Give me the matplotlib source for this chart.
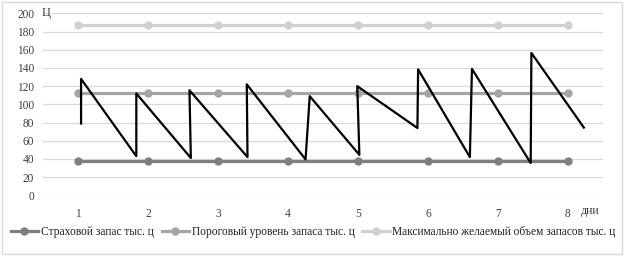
import matplotlib.pyplot as plt
from matplotlib.patches import Rectangle

plt.rcParams['font.family'] = ['Liberation Serif', 'DejaVu Serif']

days = [1, 2, 3, 4, 5, 6, 7, 8]
safety_stock = [37.5] * 8
threshold_level = [112] * 8
max_stock = [187] * 8

# actual stock (sawtooth): x in days, y in thousand centners
stock_x = [1.04, 1.04, 1.83, 1.83, 2.61, 2.59, 3.42, 3.41, 4.25, 4.31,
           5.02, 4.99, 5.85, 5.86, 6.60, 6.63, 7.47, 7.48, 8.23]
stock_y = [79, 128, 43, 112, 41, 115.5, 42, 122, 39.5, 109,
           44.5, 120, 74, 138.5, 42, 139, 35.5, 156.5, 74.5]

fig = plt.figure(figsize=(6.24, 2.58), dpi=100)
ax = fig.add_axes([0.0694, 0.243, 0.8965, 0.705])

l1, = ax.plot(days, safety_stock, color='#7f7f7f', lw=2.3, marker='o', ms=5,
              label='Страховой запас тыс. ц', zorder=3)
l2, = ax.plot(days, threshold_level, color='#a5a5a5', lw=2.3, marker='o', ms=5,
              label='Пороговый уровень запаса тыс. ц', zorder=3)
l3, = ax.plot(days, max_stock, color='#d0d0d0', lw=2.3, marker='o', ms=5,
              label='Максимально желаемый объем запасов тыс. ц', zorder=3)
ax.plot(stock_x, stock_y, color='black', lw=1.6, zorder=4)

ax.set_xlim(0.5, 8.5)
ax.set_ylim(0, 200)
ax.set_xticks(days)
ax.set_yticks(range(0, 201, 20))
ax.grid(axis='y', color='#d9d9d9', lw=0.9)
ax.set_axisbelow(True)
for s in ax.spines.values():
    s.set_visible(False)
ax.tick_params(length=0, labelsize=8.3, colors='#404040')
ax.tick_params(axis='y', pad=6.5)
ax.tick_params(axis='x', pad=9)

fig.text(0.067, 0.948, 'Ц', fontsize=9, color='#404040', va='center', ha='left')
fig.text(0.931, 0.183, 'дни', fontsize=8.5, color='#404040', va='center', ha='left')

fig.legend(handles=[l1, l2, l3], loc='center', bbox_to_anchor=(0.502, 0.102),
           ncol=3, frameon=False, fontsize=8.3, handlelength=2.4, handletextpad=0.2,
           columnspacing=0.7, labelcolor='#202020')

fig.patches.append(Rectangle((0.004, 0.014), 0.992, 0.98, transform=fig.transFigure,
                             fill=False, edgecolor='#d9d9d9', lw=1))

fig.savefig('out.png', dpi=100)
